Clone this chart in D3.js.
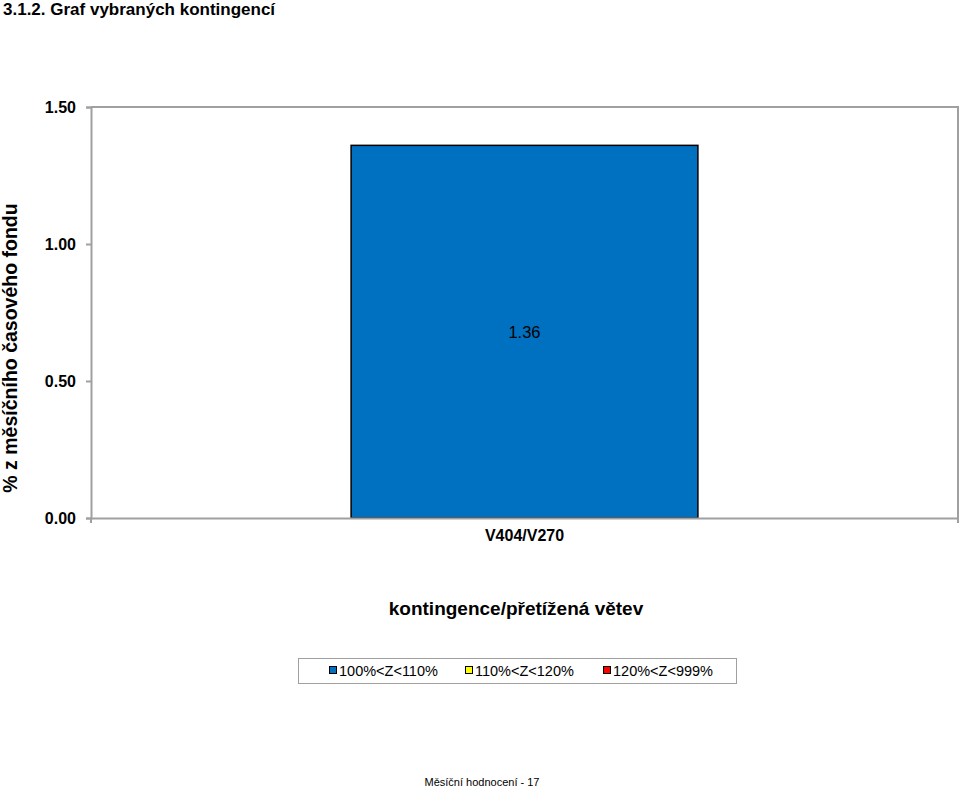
<!DOCTYPE html>
<html>
<head>
<meta charset="utf-8">
<script src="https://cdn.jsdelivr.net/npm/d3@7"></script>
<style>
  body { margin: 0; background: #fff; }
  text { font-family: "Liberation Sans", Arial, sans-serif; }
</style>
</head>
<body>
<div id="chart"></div>
<script>
const categories = ["V404/V270"];
const values = [1.36];
const yTicks = [0, 0.5, 1.0, 1.5];
const legendLabels = ["100%<Z<110%", "110%<Z<120%", "120%<Z<999%"];
const legendColors = ["#0070c0", "#ffff00", "#ff0000"];

const width = 960, height = 788;
const margin = { left: 91, right: 2, top: 107, bottom: 270 };

const svg = d3.select("#chart").append("svg")
  .attr("width", width)
  .attr("height", height);

// Page title
svg.append("text")
  .attr("x", 3).attr("y", 15)
  .style("font-size", "17px").style("font-weight", "bold")
  .text("3.1.2. Graf vybraných kontingencí");

const x = d3.scaleBand()
  .domain(categories)
  .range([margin.left, width - margin.right])
  .paddingInner(0).paddingOuter(0);

const y = d3.scaleLinear()
  .domain([0, 1.5])
  .range([height - margin.bottom, margin.top]);

// plot frame (top/right)
svg.append("path")
  .attr("fill", "none").attr("stroke", "#a0a0a0").attr("stroke-width", 2)
  .attr("d", `M${margin.left},${y(1.5)}H${width - margin.right}V${y(0)}`);

// bars
const barW = x.bandwidth() * 0.4;
svg.selectAll(".bar")
  .data(values)
  .enter().append("rect")
  .attr("x", (d, i) => x(categories[i]) + (x.bandwidth() - barW) / 2)
  .attr("y", d => y(d))
  .attr("width", barW)
  .attr("height", d => y(0) - y(d))
  .attr("fill", "#0070c0")
  .attr("stroke", "#000").attr("stroke-width", 1.5);

svg.selectAll(".val")
  .data(values)
  .enter().append("text")
  .attr("x", (d, i) => x(categories[i]) + x.bandwidth() / 2)
  .attr("y", d => (y(d) + y(0)) / 2 + 6)
  .attr("text-anchor", "middle")
  .style("font-size", "16.5px")
  .text(d => d.toFixed(2));

// y axis
const yAxis = svg.append("g")
  .attr("transform", `translate(${margin.left},0)`)
  .call(d3.axisLeft(y).tickValues(yTicks).tickFormat(d3.format(".2f")).tickSize(5).tickPadding(10));
yAxis.select(".domain").attr("stroke", "#a0a0a0").attr("stroke-width", 2);
yAxis.selectAll(".tick line").attr("stroke", "#a0a0a0").attr("stroke-width", 2);
yAxis.selectAll(".tick text")
  .style("font-size", "16px").style("font-weight", "bold")
  .style("font-family", "Liberation Sans, Arial, sans-serif").attr("fill", "#000");

// x axis
const xAxis = svg.append("g")
  .attr("transform", `translate(0,${y(0)})`)
  .call(d3.axisBottom(x).tickSize(0).tickPadding(12));
xAxis.select(".domain").attr("stroke", "#a0a0a0").attr("stroke-width", 2);
xAxis.selectAll(".tick text")
  .style("font-size", "16px").style("font-weight", "bold")
  .style("font-family", "Liberation Sans, Arial, sans-serif").attr("fill", "#000");
// category boundary ticks
svg.selectAll(".bound")
  .data([x.range()[0], x.range()[1]])
  .enter().append("line")
  .attr("x1", d => d).attr("x2", d => d)
  .attr("y1", y(0)).attr("y2", y(0) + 5)
  .attr("stroke", "#a0a0a0").attr("stroke-width", 2);

// axis titles
svg.append("text")
  .attr("transform", `translate(17,348) rotate(-90)`)
  .attr("text-anchor", "middle")
  .style("font-size", "19.5px").style("font-weight", "bold")
  .text("% z měsíčního časového fondu");

svg.append("text")
  .attr("x", 516).attr("y", 615)
  .attr("text-anchor", "middle")
  .style("font-size", "19px").style("font-weight", "bold")
  .text("kontingence/přetížená větev");

// legend
const lg = svg.append("g");
lg.append("rect")
  .attr("x", 298.5).attr("y", 658.5).attr("width", 438).attr("height", 25)
  .attr("fill", "#fff").attr("stroke", "#a0a0a0").attr("stroke-width", 1);
const legX = [329, 465, 603];
legendLabels.forEach((lab, i) => {
  lg.append("rect")
    .attr("x", legX[i] + 0.5).attr("y", 666.5).attr("width", 7).attr("height", 7)
    .attr("fill", legendColors[i]).attr("stroke", "#000").attr("stroke-width", 1);
  lg.append("text")
    .attr("x", legX[i] + 10).attr("y", 676)
    .style("font-size", "14.5px")
    .text(lab);
});

// footer
svg.append("text")
  .attr("x", 482).attr("y", 786)
  .attr("text-anchor", "middle")
  .style("font-size", "11px")
  .text("Měsíční hodnocení - 17");
</script>
</body>
</html>
